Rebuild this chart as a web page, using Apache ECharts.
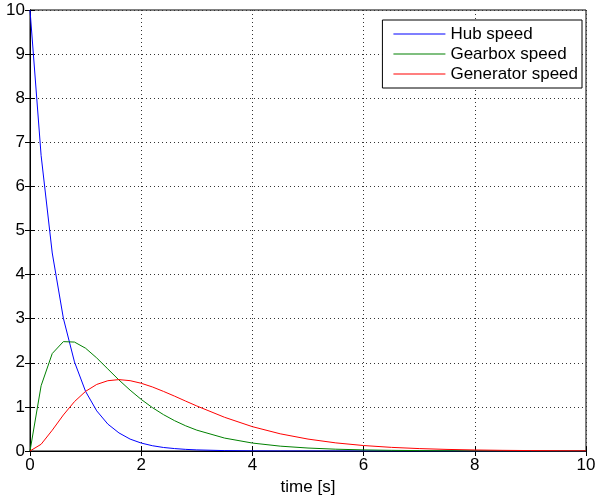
<!DOCTYPE html>
<html>
<head>
<meta charset="utf-8">
<script src="https://cdn.jsdelivr.net/npm/echarts@6/dist/echarts.min.js"></script>
<style>html,body{margin:0;padding:0;background:#fff}#c{width:595px;height:497px}</style>
</head>
<body>
<div id="c"></div>
<script>
var timeValues = [0,0.2,0.4,0.6,0.8,1.0,1.2,1.4,1.6,1.8,2.0,2.2,2.4,2.6,2.8,3.0,3.5,4.0,4.5,5.0,5.5,6.0,6.5,7.0,7.5,8.0,8.5,9.0,9.5,10.0];
var hubSpeed = [10,6.70,4.49,3.01,2.02,1.35,0.91,0.61,0.41,0.27,0.18,0.12,0.08,0.055,0.037,0.025,0.009,0.003,0.001,0.0005,0.0002,0.0001,0,0,0,0,0,0,0,0];
var gearboxSpeed = [0,1.48,2.21,2.48,2.47,2.33,2.11,1.86,1.61,1.38,1.17,0.985,0.825,0.688,0.571,0.473,0.293,0.180,0.110,0.067,0.041,0.025,0.015,0.009,0.0055,0.0034,0.002,0.0012,0.0007,0.0005];
var generatorSpeed = [0,0.153,0.471,0.817,1.120,1.353,1.509,1.594,1.619,1.595,1.536,1.453,1.352,1.244,1.131,1.021,0.764,0.552,0.390,0.270,0.184,0.124,0.0825,0.0547,0.036,0.0235,0.0152,0.0098,0.0064,0.0041];
var seriesNames = ['Hub speed','Gearbox speed','Generator speed'];
var seriesColors = ['#0000ff','#008000','#ff0000'];
var xLabel = 'time [s]';

function pairs(v){ return timeValues.map(function(t,i){ return [t, v[i]]; }); }
var font = 'Liberation Sans, Arial, Helvetica, sans-serif';
var split = {show:true, lineStyle:{color:'#333', width:1, type:[1,3]}};
function mkSeries(i, vals){
  return {name:seriesNames[i], type:'line', data:pairs(vals), showSymbol:false, symbol:'none',
    color:seriesColors[i], itemStyle:{color:seriesColors[i]}, lineStyle:{width:1, color:seriesColors[i]}};
}
var chart = echarts.init(document.getElementById('c'), null, {renderer:'canvas'});
chart.setOption({
  animation:false,
  backgroundColor:'#fff',
  grid:{left:30, right:9, top:10, bottom:46, containLabel:false, outerBoundsMode:'none', show:true, borderColor:'#000', borderWidth:1, backgroundColor:'#fff'},
  legend:{
    orient:'vertical', right:13, top:20,
    data:seriesNames.map(function(n,i){ return {name:n, itemStyle:{color:seriesColors[i]}}; }),
    icon:'rect', itemWidth:52, itemHeight:1, itemGap:0, itemStyle:{borderWidth:0},
    backgroundColor:'#fff', borderColor:'#000', borderWidth:1,
    padding:[4,4,4,11],
    textStyle:{fontFamily:font, fontSize:17, color:'#000', lineHeight:20}
  },
  xAxis:[{
    type:'value', min:0, max:10, interval:2, position:'bottom',
    name:xLabel, nameLocation:'middle', nameGap:27,
    nameTextStyle:{fontFamily:font, fontSize:17, color:'#000'},
    axisLine:{show:true, lineStyle:{color:'#000'}},
    axisTick:{show:true, inside:true, length:5, lineStyle:{color:'#000'}},
    axisLabel:{fontFamily:font, fontSize:17, color:'#000', margin:6},
    splitLine:split
  },{
    type:'value', min:0, max:10, interval:2, position:'top',
    axisLine:{show:true, lineStyle:{color:'#000'}},
    axisTick:{show:true, inside:true, length:5, lineStyle:{color:'#000'}},
    axisLabel:{show:false}, splitLine:{show:false}
  }],
  yAxis:[{
    type:'value', min:0, max:10, interval:1, position:'left',
    axisLine:{show:true, lineStyle:{color:'#000'}},
    axisTick:{show:true, inside:true, length:5, lineStyle:{color:'#000'}},
    axisLabel:{fontFamily:font, fontSize:17, color:'#000', margin:5},
    splitLine:split
  },{
    type:'value', min:0, max:10, interval:1, position:'right',
    axisLine:{show:true, lineStyle:{color:'#000'}},
    axisTick:{show:true, inside:true, length:5, lineStyle:{color:'#000'}},
    axisLabel:{show:false}, splitLine:{show:false}
  }],
  series:[ mkSeries(0, hubSpeed), mkSeries(1, gearboxSpeed), mkSeries(2, generatorSpeed) ]
});
</script>
</body>
</html>
